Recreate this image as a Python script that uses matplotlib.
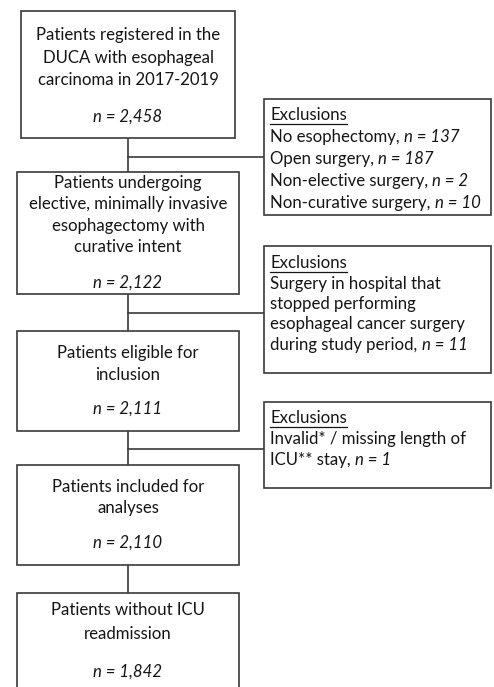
import matplotlib.pyplot as plt
from matplotlib.patches import Rectangle

# text content of the flowchart
main_labels = [
    ["Patients registered in the", "DUCA with esophageal", "carcinoma in 2017-2019"],
    ["Patients undergoing", "elective, minimally invasive", "esophagectomy with", "curative intent"],
    ["Patients eligible for", "inclusion"],
    ["Patients included for", "analyses"],
    ["Patients without ICU", "readmission"],
]
main_counts = ["2,458", "2,122", "2,111", "2,110", "1,842"]

excl_lines = [
    [("No esophectomy, ", "137"), ("Open surgery, ", "187"),
     ("Non-elective surgery, ", "2"), ("Non-curative surgery, ", "10")],
    [("Surgery in hospital that", None), ("stopped performing", None),
     ("esophageal cancer surgery", None), ("during study period, ", "11")],
    [("Invalid* / missing length of", None), ("ICU** stay, ", "1")],
]

# layout in pixels (x0, x1, y0, y1), y downwards
main_boxes = [(21, 235, 11, 138), (17, 239, 172, 294), (17, 239, 331, 431),
              (17, 239, 465, 565), (17, 239, 593, 700)]
main_first_line = [35, 183, 353, 487, 610]
main_spacing = [22.5, 21.3, 21.5, 21.5, 24]
main_n_y = [117, 283, 409, 543, 672]
excl_boxes = [(264, 491, 99, 215), (264, 491, 246, 373), (264, 491, 402, 488)]
excl_first_line = [115, 263, 418]
excl_spacing = [22, 20.5, 21]
excl_conn_y = [157, 313, 449]
x_mid = 128

plt.rcParams['font.family'] = ['Lato', 'DejaVu Sans']
FS = 12.1
EC = '#3a3a3a'
TC = '#151515'

fig = plt.figure(figsize=(4.94, 6.87), dpi=100)
ax = fig.add_axes([0, 0, 1, 1])
ax.set_xlim(0, 494)
ax.set_ylim(687, 0)
ax.axis('off')

# spine
ax.plot([x_mid, x_mid], [main_boxes[0][3], main_boxes[-1][2]], color=EC, lw=1.2, zorder=1)
for i, yc in enumerate(excl_conn_y):
    ax.plot([x_mid, excl_boxes[i][0]], [yc, yc], color=EC, lw=1.2, zorder=1)

for i, (x0, x1, y0, y1) in enumerate(main_boxes):
    ax.add_patch(Rectangle((x0, y0), x1 - x0, y1 - y0, facecolor='white',
                           edgecolor=EC, lw=1.2, zorder=2))
    xc = (x0 + x1) / 2
    for j, line in enumerate(main_labels[i]):
        ax.text(xc, main_first_line[i] + j * main_spacing[i], line, ha='center', va='center',
                fontsize=FS, color=TC, zorder=3)
    ax.text(xc, main_n_y[i], "n = " + main_counts[i], ha='center', va='center',
            fontsize=FS, color=TC, style='italic', zorder=3)

heads = []
for i, (x0, x1, y0, y1) in enumerate(excl_boxes):
    ax.add_patch(Rectangle((x0, y0), x1 - x0, y1 - y0, facecolor='white',
                           edgecolor=EC, lw=1.2, zorder=2))
    tx = x0 + 6
    h = ax.text(tx, excl_first_line[i], "Exclusions", ha='left', va='center',
                fontsize=FS, color=TC, zorder=3)
    heads.append(h)
    for j, (txt, n) in enumerate(excl_lines[i]):
        t = ax.text(tx, excl_first_line[i] + (j + 1) * excl_spacing[i], txt, ha='left',
                    va='center', fontsize=FS, color=TC, zorder=3)
        if n is not None:
            ax.annotate("n = " + n, xy=(1, 0.5), xycoords=t, ha='left', va='center',
                        fontsize=FS, color=TC, style='italic', zorder=3)

# underline the "Exclusions" headings
fig.canvas.draw()
inv = ax.transData.inverted()
for h in heads:
    bb = h.get_window_extent()
    (xa, ya), (xb, yb) = inv.transform([[bb.x0, bb.y0], [bb.x1, bb.y1]])
    yu = h.get_position()[1] + 8.5
    ax.plot([xa, xb], [yu, yu], color=TC, lw=0.9, zorder=3)

fig.savefig("out.png", dpi=100, facecolor='white')
